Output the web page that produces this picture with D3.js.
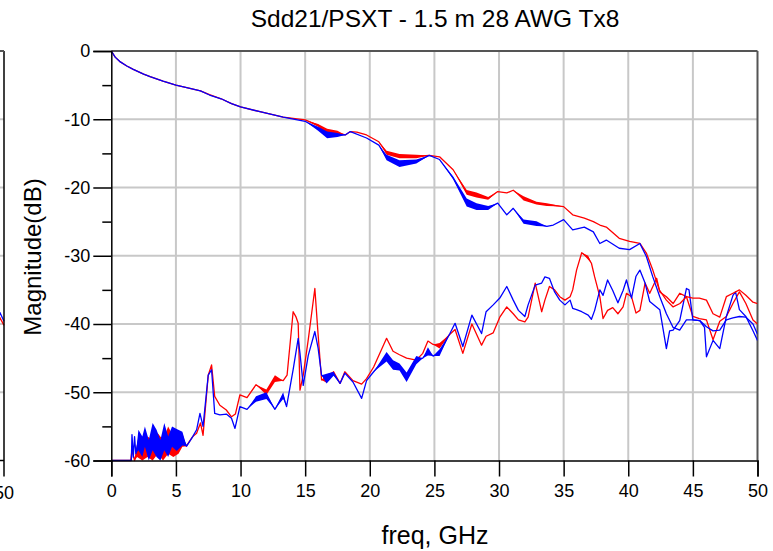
<!DOCTYPE html>
<html><head><meta charset="utf-8">
<script src="https://cdn.jsdelivr.net/npm/d3@7"></script>
<style>body{margin:0;background:#fff}svg{display:block}text{font-family:"Liberation Sans",Arial,sans-serif}</style>
</head><body><svg id="c" width="773" height="551"></svg>
<script>
// ---- data ----
const titleText = "Sdd21/PSXT - 1.5 m 28 AWG Tx8";
const xLabel = "freq, GHz";
const yLabel = "Magnitude(dB)";
const xTicks = [0,5,10,15,20,25,30,35,40,45,50];
const yTicks = [0,-10,-20,-30,-40,-50,-60];
const yMinorTicks = [-5,-15,-25,-35,-45,-55];

// [freq GHz, dB, ripple half-width dB]
const ilRed = [[0,0,0],[0.3,-0.9,0],[0.7,-1.6,0],[1.2,-2.2,0],[1.7,-2.7,0],[2.5,-3.4,0],[3,-3.75,0],[4,-4.4,0],[5,-5,0],[6,-5.45,0],[6.9,-5.85,0],[7.6,-6.4,0],[8.5,-7,0],[9.3,-7.7,0],[10,-8.2,0],[11.5,-8.9,0],[13.3,-9.7,0],[15,-10.1,0],[16,-10.9,0.2],[16.7,-11.8,0.4],[17.5,-12,0.3],[18.1,-12.3,0],[18.5,-11.8,0],[19,-11.9,0],[19.75,-12.3,0],[20.7,-13.3,0],[21.3,-14.9,0.3],[22.3,-15.4,0.3],[23.6,-15.45,0.25],[24.6,-15.3,0],[25.4,-15.5,0],[26.45,-17.4,0],[27.5,-20.7,0.35],[28.26,-21.1,0.35],[29.16,-21.6,0.2],[29.9,-20.6,0],[30.6,-20.8,0],[31.1,-20.4,0],[31.9,-21.6,0.3],[32.9,-22.3,0.2],[33.7,-22.5,0.2],[35,-22.8,0],[35.7,-24,0],[36.6,-24.5,0],[37.3,-25,0],[37.8,-25.5,0],[38.3,-25.8,0],[39.3,-27.45,0],[40.1,-27.9,0],[40.9,-28.2,0],[41.4,-29.6,0],[41.9,-32.1,0],[42.4,-35,0],[42.95,-36.5,0],[43.47,-37.5,0],[44,-37,0],[44.5,-36,0],[45,-36.2,0],[45.5,-36.2,0],[46.05,-36.5,0],[46.56,-38.5,0],[47.08,-39,0],[47.59,-36,0],[48.1,-35.5,0],[48.6,-35,0],[49.1,-35.8,0],[49.65,-36.8,0],[50,-37,0]];
const ilBlue = [[0,0,0],[0.3,-0.9,0],[0.7,-1.6,0],[1.2,-2.2,0],[1.7,-2.7,0],[2.5,-3.4,0],[3,-3.75,0],[4,-4.4,0],[5,-5,0],[6,-5.45,0],[6.9,-5.85,0],[7.6,-6.45,0],[8.5,-7,0],[9.3,-7.7,0],[10,-8.2,0],[11.5,-8.9,0],[13.3,-9.7,0],[15,-10.3,0],[16,-11.4,0.3],[16.7,-12.3,0.5],[17.5,-12.3,0.3],[18.1,-12.3,0],[18.5,-11.8,0],[19.75,-12.75,0],[20.7,-13.8,0],[21.3,-15.6,0.4],[22.3,-16.5,0.5],[23.6,-16.2,0.3],[24.6,-15.3,0],[25.4,-15.9,0],[26.45,-18.6,0.2],[27.5,-22.2,0.6],[28.26,-22.8,0.5],[29.16,-23,0.3],[29.9,-22.3,0],[30.6,-24,0],[31.1,-23.05,0],[31.9,-25,0.3],[32.9,-25.3,0.35],[33.7,-25.7,0],[34.2,-25.5,0],[35,-24.7,0],[35.7,-26.2,0],[36.6,-25.8,0],[37.3,-26.5,0],[37.8,-28.2,0],[38.3,-27.7,0],[39.3,-28.9,0],[40.1,-29.1,0],[40.9,-28.2,0],[41.4,-30.1,0],[41.9,-33.1,0],[42.44,-36,0],[42.95,-38.5,0],[43.47,-40.5,0],[43.98,-40.9,0],[44.5,-39.4,0],[45,-39.4,0],[45.53,-39.5,0],[46.05,-40.4,0],[46.56,-41,0],[47.08,-40.9,0],[47.59,-39.4,0],[48.1,-39.1,0],[48.6,-38.9,0],[49.1,-39,0],[49.65,-40,0],[50,-41.5,0]];
const xtRed = [[0,-60,0],[1.5,-60,0],[1.6,-58.5,0],[1.8,-60,0],[2,-58.5,1],[2.4,-59,1],[2.8,-58,1.5],[3.2,-58.5,1.5],[3.6,-57.5,1.5],[4,-58.5,1.5],[4.4,-57,2],[4.8,-58,1.5],[5.2,-57.5,1.5],[5.5,-57,1],[5.8,-57.9,0],[6.3,-56.5,0],[6.6,-56,0],[6.9,-54.5,0],[7.1,-56.3,0],[7.5,-47.5,0],[7.76,-46,0],[8,-50.6,0],[8.4,-51.9,0],[8.9,-52.6,0],[9.3,-53.6,0],[9.6,-53.2,0],[9.95,-50.4,0],[10.5,-50.8,0],[11.2,-48.9,0],[12,-50,0.4],[12.66,-48,0.5],[13.3,-48.3,0],[13.6,-47.5,0],[14.07,-38.2,0],[14.3,-39,0],[14.46,-39.9,0],[14.6,-49.7,0],[14.85,-47.5,0],[15.24,-42.3,0],[15.75,-34.8,0],[16,-41.5,0],[16.27,-48.2,0],[16.66,-48,0.6],[17.2,-47,0],[17.7,-48.7,0],[18.07,-47,0],[18.7,-48.3,0],[19.37,-48.8,0],[19.75,-48,0],[20.3,-46.3,0],[21.3,-42.1,0],[21.8,-44,0],[22.3,-44.5,0],[22.85,-45,0],[23.6,-45.3,0],[24.1,-44.3,0],[24.5,-42.5,0],[24.9,-43,0],[25.4,-43.2,0.4],[26.2,-41.5,0],[26.6,-40.8,0],[27.2,-44.3,0],[27.9,-40,0],[28.65,-43.1,0],[29,-41.8,0],[29.55,-41.3,0],[30.06,-39,0],[30.6,-37.5,0],[31.1,-38.5,0],[31.5,-39.4,0],[32,-39.7,0],[32.25,-39,0],[32.8,-34,0],[33.3,-38.2,0],[33.55,-36.5,0],[33.9,-34.5,0],[34.3,-35,0],[34.7,-36,0],[35.1,-36.5,0],[35.5,-36,0],[35.7,-35,0],[36,-32.1,0],[36.4,-29.55,0],[36.9,-30.3,0.3],[37.15,-31.1,0],[37.4,-33.1,0],[37.8,-36,0],[38.05,-39.2,0],[38.4,-38,0],[38.8,-37.6,0],[39.2,-38.5,0],[39.6,-37.5,0],[39.86,-35.5,0],[40.25,-36,0],[40.6,-38.4,0],[40.9,-38,0],[41.3,-34,0],[41.66,-35.5,0],[42.2,-33.3,0],[42.44,-35.3,0],[42.95,-36,0],[43.47,-37,0],[43.98,-35.5,0],[44.5,-36,0],[45,-38.9,0],[45.5,-39.2,0],[46.05,-39.4,0],[46.56,-42.3,0],[47.08,-39.6,0],[47.59,-38.9,0],[48.1,-37,0],[48.6,-35.3,0],[49.1,-37,0],[49.65,-39.4,0],[50,-40,0]];
const xtBlue = [[0,-60,0],[1.55,-60,0],[1.6,-56.2,0],[1.7,-59.5,0],[1.8,-56.5,0],[1.9,-59,0],[2.1,-57,1.5],[2.4,-58,1.5],[2.6,-56.5,1.5],[2.9,-58.5,1.5],[3.2,-56.5,2],[3.5,-57.5,2],[3.8,-58.5,1.5],[4.1,-56.5,2],[4.4,-58,1.5],[4.7,-56.5,1.5],[5.06,-57,1.6],[5.5,-56.8,1],[5.83,-57.9,0],[6.3,-56.5,0],[6.6,-55.5,0],[6.86,-53.1,0],[7.1,-55,0],[7.5,-47.5,0],[7.76,-46.7,0],[8,-53.1,0],[8.4,-53.3,0],[8.9,-53.2,0],[9.3,-53.8,0],[9.57,-55.3,0],[9.95,-52.1,0],[10.5,-52.5,0],[11.2,-51,0.4],[12,-50.5,0.5],[12.66,-52.5,0],[13.3,-50.5,0.5],[13.56,-52.1,0],[14.07,-46.7,0],[14.46,-42.1,0],[14.6,-44.3,0],[14.85,-49,0],[15.24,-44.6,0],[15.75,-41.1,0],[16,-43.5,0],[16.27,-47.5,0],[16.66,-48,0.7],[17.2,-47.3,0.3],[17.7,-48.7,0],[18.07,-47.2,0],[18.7,-48.5,0],[19.37,-50.9,0],[19.75,-48.3,0],[20.3,-47,0],[21.3,-44.8,0.7],[21.8,-46,0.7],[22.3,-46.3,0.5],[22.85,-47.8,0.7],[23.6,-45.3,0.6],[24.1,-45,0],[24.5,-44,0.6],[24.9,-44.7,0],[25.4,-44.2,0.5],[26.2,-41.4,0],[26.6,-39.9,0],[27.2,-43.3,0],[27.9,-38.7,0],[28.65,-41.4,0],[29,-38.2,0],[29.55,-37.2,0],[30.06,-36.2,0],[30.6,-34.5,0],[31.1,-36.5,0],[31.5,-38,0],[32,-38.9,0],[32.25,-37.2,0],[32.8,-34.3,0],[33.3,-34,0],[33.55,-33.1,0],[33.9,-33.3,0],[34.3,-35.3,0],[34.7,-36.5,0],[35.1,-37.2,0],[35.5,-36.5,0],[35.7,-37.7,0],[36,-37.9,0],[36.4,-38.2,0],[36.9,-38.7,0],[37.15,-39.3,0],[37.4,-38,0],[37.8,-35,0],[38.05,-35.8,0],[38.4,-33.55,0],[38.8,-35.1,0],[39.2,-36.9,0],[39.6,-35.1,0],[39.86,-33.55,0],[40.25,-36.2,0],[40.6,-33,0],[40.9,-32.1,0],[41.3,-34,0],[41.66,-36.7,0],[42.44,-37.9,0],[42.95,-43.6,0],[43.2,-41,0],[43.47,-40.9,0],[43.98,-39.5,0],[44.5,-34.8,0],[44.7,-35,0],[45,-39.4,0],[45.53,-39.5,0],[45.9,-40.5,0],[46.05,-44.8,0],[46.56,-42.4,0],[47.08,-43.6,0],[47.59,-38.9,0],[48.1,-35.8,0],[48.3,-35.3,0],[48.6,-37.9,0],[49.1,-38.9,0],[49.65,-41,0],[50,-42.4,0]];
// fragment of the neighbouring chart at the left edge
const leftRed = [[49.6,-38.8],[50,-40.2]];
const leftBlue = [[49.6,-38.0],[50,-39.6]];
const leftTickLabel = "50";

// ---- drawing ----
const svg = d3.select("#c");
const L = 111.3, R = 757.5, T = 51, B = 460.5;
const x = d3.scaleLinear().domain([0,50]).range([L,R]);
const y = d3.scaleLinear().domain([-60,0]).range([B,T]);
const fmt = d => String(d);

// left fragment chart
const xl = d3.scaleLinear().domain([0,50]).range([4-646,4]);
const gl = svg.append("g");
gl.selectAll("line.g").data(yTicks.slice(1,-1)).join("line")
  .attr("x1",0).attr("x2",4).attr("y1",d=>y(d)).attr("y2",d=>y(d))
  .attr("stroke","#c8c8c8").attr("stroke-width",2);
const lineL = d3.line().x(d=>xl(d[0])).y(d=>y(d[1]));
gl.append("path").attr("d",lineL(leftRed)).attr("fill","none").attr("stroke","#f00").attr("stroke-width",1.3);
gl.append("path").attr("d",lineL(leftBlue)).attr("fill","none").attr("stroke","#00f").attr("stroke-width",1.3);
gl.append("line").attr("x1",4).attr("x2",4).attr("y1",T).attr("y2",B+16).attr("stroke","#000").attr("stroke-width",1.5);
gl.append("line").attr("x1",0).attr("x2",4).attr("y1",B).attr("y2",B).attr("stroke","#000").attr("stroke-width",1.5);
gl.append("line").attr("x1",0).attr("x2",4).attr("y1",T).attr("y2",T).attr("stroke","#555").attr("stroke-width",2);
gl.append("text").attr("x",xl(50)).attr("y",499).attr("text-anchor","middle").attr("font-size",18).text(leftTickLabel);

// grid
const g = svg.append("g");
g.selectAll("line.vg").data(xTicks.slice(1,-1)).join("line")
  .attr("x1",d=>x(d)).attr("x2",d=>x(d)).attr("y1",T).attr("y2",B)
  .attr("stroke","#c8c8c8").attr("stroke-width",2);
g.selectAll("line.hg").data(yTicks.slice(1,-1)).join("line")
  .attr("x1",L).attr("x2",R).attr("y1",d=>y(d)).attr("y2",d=>y(d))
  .attr("stroke","#c8c8c8").attr("stroke-width",2);

// border
g.append("line").attr("x1",L).attr("x2",R).attr("y1",T).attr("y2",T).attr("stroke","#555").attr("stroke-width",2);
g.append("line").attr("x1",R).attr("x2",R).attr("y1",T).attr("y2",B).attr("stroke","#555").attr("stroke-width",2);

// series
const clip = svg.append("clipPath").attr("id","pc").append("rect").attr("x",L).attr("y",T-2).attr("width",R-L).attr("height",B-T+3);
const sg = svg.append("g").attr("clip-path","url(#pc)");
const area = d3.area().x(d=>x(d[0])).y0(d=>y(d[1]-d[2])).y1(d=>y(d[1]+d[2]));
const line = d3.line().x(d=>x(d[0])).y(d=>y(d[1]));
function draw(data,col){
  sg.append("path").attr("d",area(data)).attr("fill",col).attr("stroke","none");
  sg.append("path").attr("d",line(data)).attr("fill","none").attr("stroke",col).attr("stroke-width",1.3).attr("stroke-linejoin","round");
}
draw(xtRed,"#ff0000");
draw(xtBlue,"#0000ff");
draw(ilRed,"#ff0000");
draw(ilBlue,"#0000ff");

// axes
const xAxis = d3.axisBottom(x).tickValues(xTicks).tickSize(16).tickPadding(8).tickFormat(fmt);
const ax = svg.append("g").attr("transform",`translate(0,${B})`).call(xAxis);
ax.select(".domain").attr("stroke","#000").attr("stroke-width",1.5);
ax.selectAll(".tick line").attr("stroke","#000").attr("stroke-width",1.5);
ax.selectAll("text").attr("font-size",18).attr("font-family","Liberation Sans, Arial").attr("fill","#000");

const yAxis = d3.axisLeft(y).tickValues(yTicks).tickSize(18).tickPadding(3).tickFormat(fmt);
const ay = svg.append("g").attr("transform",`translate(${L},0)`).call(yAxis);
ay.select(".domain").attr("stroke","#000").attr("stroke-width",1.5);
ay.selectAll(".tick line").attr("stroke","#000").attr("stroke-width",1.5);
ay.selectAll("text").attr("font-size",18).attr("font-family","Liberation Sans, Arial").attr("fill","#000");
const yMinor = d3.axisLeft(y).tickValues(yMinorTicks).tickSize(9).tickFormat("");
const aym = svg.append("g").attr("transform",`translate(${L},0)`).call(yMinor);
aym.select(".domain").remove();
aym.selectAll(".tick line").attr("stroke","#000").attr("stroke-width",1.5);

// labels
svg.append("text").attr("x",435).attr("y",27).attr("text-anchor","middle").attr("font-size",24.5).text(titleText);
svg.append("text").attr("x",435).attr("y",544).attr("text-anchor","middle").attr("font-size",25).text(xLabel);
svg.append("text").attr("transform","translate(41,257) rotate(-90)").attr("text-anchor","middle").attr("font-size",24).text(yLabel);
</script></body></html>
